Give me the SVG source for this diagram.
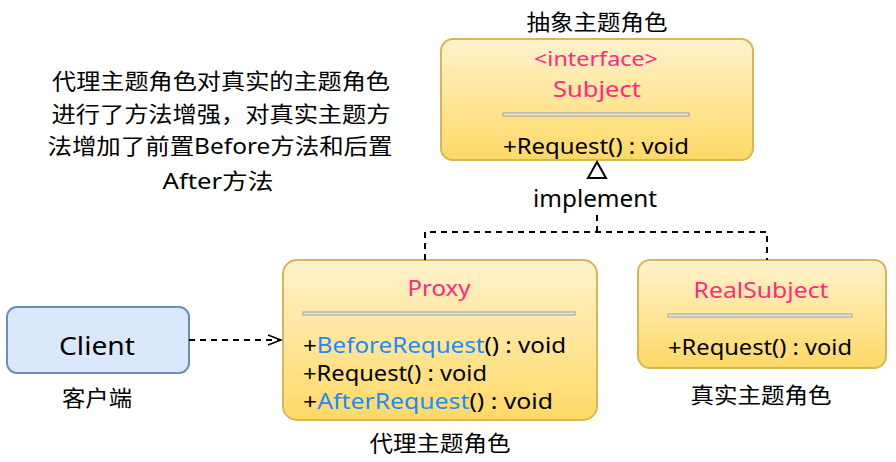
<svg xmlns="http://www.w3.org/2000/svg" width="896" height="462" viewBox="0 0 896 462">
<defs>
<linearGradient id="yg" x1="0" y1="0" x2="0" y2="1">
<stop offset="0" stop-color="#fff2cc"/>
<stop offset="1" stop-color="#ffd966"/>
</linearGradient>
<marker id="open" markerWidth="16" markerHeight="12" refX="14" refY="6" orient="auto" markerUnits="userSpaceOnUse">
<path d="M1,1 L14,6 L1,11" fill="none" stroke="#000" stroke-width="1.6"/>
</marker>
</defs>
<style>
text{font-family:"Noto Sans","Noto Sans CJK SC",sans-serif;fill:#000}
.box{fill:url(#yg);stroke:#d6b656;stroke-width:2}
.t{font-size:22px;text-anchor:middle}
.name{font-size:22px;fill:#ff2a7f;text-anchor:middle}
.m{font-size:21px}
.blue{fill:#1a8cff}
.sep{fill:#e6e6e6;stroke:#a0a0a0;stroke-width:1}
.dash{fill:none;stroke:#000;stroke-width:2;stroke-dasharray:6 5}
</style>
<g id="note">
<text class="t" x="221" y="89" textLength="338" lengthAdjust="spacingAndGlyphs">代理主题角色对真实的主题角色</text>
<text class="t" x="221" y="122" textLength="339" lengthAdjust="spacingAndGlyphs">进行了方法增强，对真实主题方</text>
<text class="t" x="220" y="154" textLength="345" lengthAdjust="spacingAndGlyphs">法增加了前置Before方法和后置</text>
<text class="t" x="218" y="189" textLength="111" lengthAdjust="spacingAndGlyphs">After方法</text>
</g>
<g id="subject">
<text class="t" x="597" y="30" textLength="141" lengthAdjust="spacingAndGlyphs">抽象主题角色</text>
<rect class="box" x="441" y="39" width="312" height="121" rx="12"/>
<text class="name" x="596" y="66" style="font-size:19px" textLength="124" lengthAdjust="spacingAndGlyphs">&lt;interface&gt;</text>
<text class="name" x="597" y="97" textLength="88" lengthAdjust="spacingAndGlyphs">Subject</text>
<rect class="sep" x="503" y="113" width="186" height="3"/>
<text class="m" x="503" y="154" textLength="186" lengthAdjust="spacingAndGlyphs">+Request() : void</text>
</g>
<g id="proxy">
<rect class="box" x="283" y="260" width="314" height="160" rx="14"/>
<text class="name" x="439" y="296" textLength="63" lengthAdjust="spacingAndGlyphs">Proxy</text>
<rect class="sep" x="303" y="312" width="272" height="3"/>
<text class="m" x="303" y="353" textLength="263" lengthAdjust="spacingAndGlyphs">+<tspan class="blue">BeforeRequest</tspan>() : void</text>
<text class="m" x="303" y="381" textLength="184" lengthAdjust="spacingAndGlyphs">+Request() : void</text>
<text class="m" x="303" y="409" textLength="250" lengthAdjust="spacingAndGlyphs">+<tspan class="blue">AfterRequest</tspan>() : void</text>
<text class="t" x="440" y="451" textLength="141" lengthAdjust="spacingAndGlyphs">代理主题角色</text>
</g>
<g id="realsubject">
<rect class="box" x="638" y="260" width="248" height="108" rx="12"/>
<text class="name" x="761" y="298" textLength="135" lengthAdjust="spacingAndGlyphs">RealSubject</text>
<rect class="sep" x="668" y="314" width="184" height="3"/>
<text class="m" x="668" y="355" textLength="184" lengthAdjust="spacingAndGlyphs">+Request() : void</text>
<text class="t" x="761" y="403" textLength="141" lengthAdjust="spacingAndGlyphs">真实主题角色</text>
</g>
<g id="client">
<rect x="7" y="307" width="182" height="66" rx="10" fill="#dae8fc" stroke="#6c8ebf" stroke-width="2"/>
<text class="t" x="97" y="355" style="font-size:26px" textLength="76" lengthAdjust="spacingAndGlyphs">Client</text>
<text class="t" x="97" y="406" textLength="70" lengthAdjust="spacingAndGlyphs">客户端</text>
</g>
<g id="connectors">
<path class="dash" d="M189,340 H281" marker-end="url(#open)"/>
<path class="dash" d="M425,260 V232 H767 V260"/>
<path class="dash" d="M597,232 V215"/>
<polygon points="597,162 606,178 588,178" fill="#fff" stroke="#000" stroke-width="2"/>
<text class="t" x="595" y="207" style="font-size:23px" textLength="124" lengthAdjust="spacingAndGlyphs">implement</text>
</g>
</svg>
